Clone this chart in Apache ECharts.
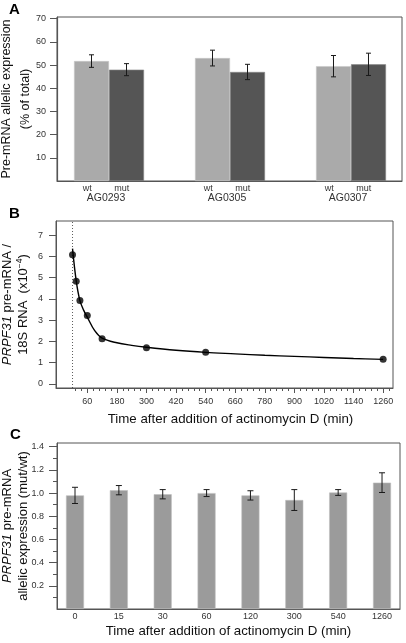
<!DOCTYPE html>
<html>
<head>
<meta charset="utf-8">
<script src="https://cdn.jsdelivr.net/npm/echarts@6/dist/echarts.min.js"></script>
<style>
html,body{margin:0;padding:0;background:#fff;}
#chart{width:406px;height:643px;}
</style>
</head>
<body>
<div id="chart"></div>
<script>
// ---------- Panel A data ----------
const groupNames = ['AG0293', 'AG0305', 'AG0307'];
const wtMean = [51.7, 53.0, 49.5];
const wtErr  = [2.7, 3.4, 4.6];
const mutMean = [48.0, 47.0, 50.3];
const mutErr  = [2.6, 3.3, 4.8];
const yTicksA = [10, 20, 30, 40, 50, 60, 70];

// ---------- Panel B data ----------
const decayTimes  = [0, 15, 30, 60, 120, 300, 540, 1260];
const decayValues = [6.08, 4.83, 3.92, 3.22, 2.12, 1.70, 1.49, 1.15];
const fitTimes  = [0, 15, 30, 45, 60, 90, 120, 180, 240, 300, 420, 540, 660, 780, 900, 1020, 1140, 1260];
const fitValues = [6.37, 4.85, 3.92, 3.47, 3.14, 2.50, 2.15, 1.93, 1.81, 1.72, 1.58, 1.48, 1.41, 1.34, 1.29, 1.24, 1.19, 1.15];
const xTicksB = [60, 180, 300, 420, 540, 660, 780, 900, 1020, 1140, 1260];
const yTicksB = [0, 1, 2, 3, 4, 5, 6, 7];
const startLineB = [[0, -0.2], [0, 7.67]];

// ---------- Panel C data ----------
const timeLabels = ['0', '15', '30', '60', '120', '300', '540', '1260'];
const ratioMean = [0.98, 1.025, 0.99, 1.00, 0.98, 0.94, 1.005, 1.09];
const ratioErr  = [0.07, 0.04, 0.04, 0.03, 0.04, 0.09, 0.025, 0.085];
const yTicksC = ['0.2', '0.4', '0.6', '0.8', '1.0', '1.2', '1.4'];

const FONT = 'Liberation Sans, Arial, Helvetica, sans-serif';
const AX = '#555';
const LBL = '#333';

function errRender(offsetPx, cap) {
  return function (params, api) {
    const x = api.value(0), lo = api.value(1), hi = api.value(2);
    const pHi = api.coord([x, hi]);
    const pLo = api.coord([x, lo]);
    const cx = pHi[0] + offsetPx;
    const st = { stroke: '#1a1a1a', lineWidth: 1 };
    return {
      type: 'group',
      children: [
        { type: 'line', shape: { x1: cx, y1: pHi[1], x2: cx, y2: pLo[1] }, style: st },
        { type: 'line', shape: { x1: cx - cap, y1: pHi[1], x2: cx + cap, y2: pHi[1] }, style: st },
        { type: 'line', shape: { x1: cx - cap, y1: pLo[1], x2: cx + cap, y2: pLo[1] }, style: st }
      ]
    };
  };
}

const chart = echarts.init(document.getElementById('chart'), null, { renderer: 'canvas' });

const yTickMinorC = [];
for (let i = 1; i <= 14; i += 2) yTickMinorC.push(i / 10);
const xTickMinorB = [];
for (let t = 12; t <= 1290; t += 24) xTickMinorB.push(t);

const gridBase = { show: true, borderColor: AX, borderWidth: 1, backgroundColor: 'transparent', containLabel: false, outerBoundsMode: 'none' };

const option = {
  animation: false,
  backgroundColor: '#fff',
  textStyle: { fontFamily: FONT },
  graphic: [
    { type: 'text', left: 9, top: 2, style: { text: 'A', font: 'bold 15px ' + FONT, fill: '#000' } },
    { type: 'text', left: 9, top: 206, style: { text: 'B', font: 'bold 15px ' + FONT, fill: '#000' } },
    { type: 'text', left: 10, top: 427, style: { text: 'C', font: 'bold 15px ' + FONT, fill: '#000' } }
  ],
  grid: [
    Object.assign({ left: 57, right: 4, top: 17, bottom: 462 }, gridBase),
    Object.assign({ left: 56, right: 13, top: 221, bottom: 255 }, gridBase),
    Object.assign({ left: 57, right: 6, top: 443, bottom: 34 }, gridBase)
  ],
  xAxis: [
    {
      gridIndex: 0, type: 'value', min: 0.5702, max: 3.4215,
      splitLine: { show: false },
      axisLine: { onZero: false, lineStyle: { color: AX } },
      axisTick: { show: false },
      axisLabel: {
        customValues: [1, 2, 3],
        margin: 3,
        padding: [0, 6, 0, 0],
        color: LBL,
        formatter: function (v) {
          return '{s|wt         mut}\n{g|' + groupNames[Math.round(v) - 1] + '}';
        },
        rich: {
          s: { fontSize: 9, lineHeight: 9, color: LBL, fontFamily: FONT },
          g: { fontSize: 10.5, lineHeight: 10, color: LBL, fontFamily: FONT }
        }
      }
    },
    {
      gridIndex: 1, type: 'value', min: -67, max: 1300, position: 'bottom',
      splitLine: { show: false },
      axisLine: { onZero: false, lineStyle: { color: AX } },
      axisTick: { customValues: xTicksB, length: 5, lineStyle: { color: AX } },
      axisLabel: { customValues: xTicksB, margin: 9, fontSize: 9, color: LBL, formatter: function (v) { return String(v); } },
      name: 'Time after addition of actinomycin D (min)',
      nameLocation: 'middle', nameGap: 25, nameMoveOverlap: false,
      nameTextStyle: { fontSize: 13.3, color: '#111', padding: [0, 0, 0, 12] }
    },
    {
      gridIndex: 1, type: 'value', min: -67, max: 1300, position: 'bottom', offset: 0,
      splitLine: { show: false },
      axisLine: { show: false, onZero: false },
      axisTick: { customValues: xTickMinorB, length: 3, lineStyle: { color: AX } },
      axisLabel: { show: false }
    },
    {
      gridIndex: 2, type: 'value', min: -0.4104, max: 7.41,
      splitLine: { show: false },
      axisLine: { onZero: false, lineStyle: { color: AX } },
      axisTick: { show: false },
      axisLabel: {
        customValues: [0, 1, 2, 3, 4, 5, 6, 7], margin: 3, fontSize: 9, color: LBL,
        formatter: function (v) { return timeLabels[Math.round(v)]; }
      },
      name: 'Time after addition of actinomycin D (min)',
      nameLocation: 'middle', nameGap: 16, nameMoveOverlap: false,
      nameTextStyle: { fontSize: 13.3, color: '#111' }
    }
  ],
  yAxis: [
    {
      gridIndex: 0, type: 'value', min: 0, max: 70.7,
      splitLine: { show: false },
      axisLine: { show: true, onZero: false, lineStyle: { color: AX, width: 1.2 } },
      axisTick: { customValues: yTicksA, length: 7, lineStyle: { color: AX } },
      axisLabel: { customValues: yTicksA, margin: 11, fontSize: 9, color: LBL },
      name: 'Pre-mRNA allelic expression\n(% of total)',
      nameLocation: 'middle', nameRotate: 90, nameGap: 22, nameMoveOverlap: false,
      nameTextStyle: { fontSize: 12.5, lineHeight: 19, color: '#111' }
    },
    {
      gridIndex: 1, type: 'value', min: -0.2, max: 7.67,
      splitLine: { show: false },
      axisLine: { show: true, onZero: false, lineStyle: { color: AX } },
      axisTick: { customValues: yTicksB, length: 7, lineStyle: { color: AX } },
      axisLabel: { customValues: yTicksB, margin: 13, fontSize: 9, color: LBL },
      name: '{i|PRPF31} pre-mRNA /\n18S RNA  (x10{sup|−4})',
      nameLocation: 'middle', nameRotate: 90, nameGap: 25, nameMoveOverlap: false,
      nameTextStyle: {
        fontSize: 13, lineHeight: 16, color: '#111',
        rich: {
          i: { fontStyle: 'italic', fontSize: 13, lineHeight: 16, color: '#111', fontFamily: FONT },
          sup: { fontSize: 8.5, lineHeight: 16, verticalAlign: 'top', color: '#111', fontFamily: FONT }
        }
      }
    },
    {
      gridIndex: 2, type: 'value', min: 0, max: 1.432,
      splitLine: { show: false },
      axisLine: { show: true, onZero: false, lineStyle: { color: AX } },
      axisTick: { customValues: yTicksC.map(Number), length: 8, lineStyle: { color: AX } },
      axisLabel: {
        customValues: yTicksC.map(Number), margin: 13, fontSize: 9, color: LBL,
        formatter: function (v) { return v.toFixed(1); }
      },
      name: '{i|PRPF31} pre-mRNA\nallelic expression (mut/wt)',
      nameLocation: 'middle', nameRotate: 90, nameGap: 26, nameMoveOverlap: false,
      nameTextStyle: {
        fontSize: 13, lineHeight: 16, color: '#111',
        rich: { i: { fontStyle: 'italic', fontSize: 13, lineHeight: 16, color: '#111', fontFamily: FONT } }
      }
    },
    {
      gridIndex: 2, type: 'value', min: 0, max: 1.432, position: 'left', offset: 0,
      splitLine: { show: false },
      axisLine: { show: false, onZero: false },
      axisTick: { customValues: yTickMinorC, length: 4, lineStyle: { color: AX } },
      axisLabel: { show: false }
    }
  ],
  series: [
    {
      name: 'wt', type: 'bar', xAxisIndex: 0, yAxisIndex: 0,
      barWidth: 35, barGap: '0%',
      itemStyle: { color: '#aaaaaa', borderColor: '#c8c8c8', borderWidth: 0.6 },
      data: groupNames.map((g, i) => [i + 1, wtMean[i]])
    },
    {
      name: 'mut', type: 'bar', xAxisIndex: 0, yAxisIndex: 0,
      barWidth: 35, barGap: '0%',
      itemStyle: { color: '#555555', borderColor: '#888', borderWidth: 0.6 },
      data: groupNames.map((g, i) => [i + 1, mutMean[i]])
    },
    {
      type: 'custom', xAxisIndex: 0, yAxisIndex: 0, z: 10,
      renderItem: errRender(-17.5, 2.5),
      encode: { x: 0, y: [1, 2] },
      data: groupNames.map((g, i) => [i + 1, wtMean[i] - wtErr[i], wtMean[i] + wtErr[i]])
    },
    {
      type: 'custom', xAxisIndex: 0, yAxisIndex: 0, z: 10,
      renderItem: errRender(17.5, 2.5),
      encode: { x: 0, y: [1, 2] },
      data: groupNames.map((g, i) => [i + 1, mutMean[i] - mutErr[i], mutMean[i] + mutErr[i]])
    },
    {
      type: 'line', xAxisIndex: 1, yAxisIndex: 1, z: 1,
      symbol: 'none', silent: true,
      lineStyle: { type: [1, 2], color: '#333', width: 0.8 },
      data: startLineB
    },
    {
      type: 'line', xAxisIndex: 1, yAxisIndex: 1,
      smooth: 0.35, showSymbol: false, symbol: 'none',
      lineStyle: { color: '#000', width: 1.4 },
      data: fitTimes.map((t, i) => [t, fitValues[i]])
    },
    {
      type: 'scatter', xAxisIndex: 1, yAxisIndex: 1, z: 5,
      symbolSize: 7, itemStyle: { color: '#000' },
      data: decayTimes.map((t, i) => [t, decayValues[i]])
    },
    {
      type: 'bar', xAxisIndex: 3, yAxisIndex: 2,
      barWidth: 18,
      itemStyle: { color: '#9b9b9b', borderColor: '#bdbdbd', borderWidth: 0.6 },
      data: timeLabels.map((t, i) => [i, ratioMean[i]])
    },
    {
      type: 'custom', xAxisIndex: 3, yAxisIndex: 2, z: 10,
      renderItem: errRender(0, 3),
      encode: { x: 0, y: [1, 2] },
      data: timeLabels.map((t, i) => [i, ratioMean[i] - ratioErr[i], ratioMean[i] + ratioErr[i]])
    }
  ]
};

chart.setOption(option);
</script>
</body>
</html>
